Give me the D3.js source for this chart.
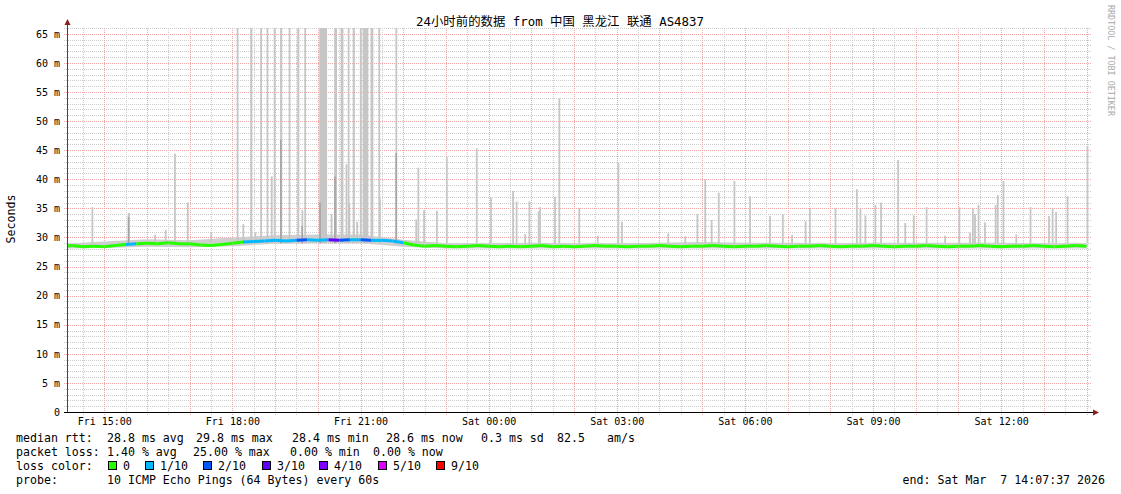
<!DOCTYPE html>
<html>
<head>
<meta charset="utf-8">
<script src="https://cdn.jsdelivr.net/npm/d3@7"></script>
<style>
  body { margin: 0; background: #fff; }
  text { font-family: "DejaVu Sans Mono", "Noto Sans CJK SC", monospace; white-space: pre; }
</style>
</head>
<body>
<script>
// median rtt (ms), one value every 15 minutes from Fri 14:00 to Sat 14:00
let median = [
    28.5, 28.6, 28.4, 28.5, 28.4, 28.6, 28.8, 28.9,
    29.0, 28.9, 29.1, 28.9, 28.9, 28.7, 28.6, 28.8,
    29.0, 29.2, 29.3, 29.4, 29.5, 29.4, 29.5, 29.6,
    29.5, 29.6, 29.5, 29.6, 29.6, 29.5, 29.5, 29.4,
    29.1, 28.7, 28.5, 28.6, 28.5, 28.4, 28.5, 28.6,
    28.5, 28.4, 28.5, 28.4, 28.5, 28.6, 28.4, 28.5,
    28.4, 28.5, 28.6, 28.5, 28.5, 28.4, 28.5, 28.5,
    28.6, 28.5, 28.4, 28.5, 28.5, 28.6, 28.5, 28.4,
    28.5, 28.5, 28.6, 28.5, 28.4, 28.5, 28.5, 28.6,
    28.5, 28.4, 28.5, 28.5, 28.6, 28.5, 28.4, 28.5,
    28.5, 28.6, 28.5, 28.4, 28.5, 28.5, 28.6, 28.5,
    28.4, 28.5, 28.5, 28.6, 28.5, 28.4, 28.5, 28.6,
    28.5
]
// lost pings out of 10, same 15 minute slots
let loss = [
    0, 0, 0, 0, 0, 0, 1, 0,
    0, 0, 0, 0, 0, 0, 0, 0,
    0, 1, 1, 1, 1, 1, 2, 1,
    1, 3, 2, 1, 2, 1, 1, 1,
    0, 0, 0, 0, 0, 0, 0, 0,
    0, 0, 0, 0, 0, 0, 0, 0,
    0, 0, 0, 0, 0, 0, 0, 0,
    0, 0, 0, 0, 0, 0, 0, 0,
    0, 0, 0, 0, 0, 0, 0, 0,
    0, 0, 0, 0, 0, 0, 0, 0,
    0, 0, 0, 0, 0, 0, 0, 0,
    0, 0, 0, 0, 0, 0, 0, 0,
    0
]
// smoke band (ms), hourly from Fri 14:00 to Sat 14:00
let smokeLo = [28.1, 28.2, 28.4, 28.3, 28.5, 28.9, 29.0, 29.0, 28.4, 28.1, 28.1, 28.1, 28.1,
    28.1, 28.1, 28.1, 28.1, 28.1, 28.1, 28.1, 28.1, 28.1, 28.1, 28.1, 28.1]
let smokeHi = [28.9, 29.3, 29.7, 29.5, 30.0, 30.4, 30.5, 30.5, 29.6, 29.0, 29.0, 29.1, 29.0,
    29.0, 29.1, 29.2, 29.1, 29.1, 29.0, 29.1, 29.1, 29.1, 29.1, 29.0, 29.0]
// slow pings: [time, max ms, minutes, darker part ms]
let spikes = [
    ["Fri 14:42", 35.2, 1], ["Fri 15:33", 34.2, 3, 33.5], ["Fri 16:10", 30.5, 1],
    ["Fri 16:25", 31.3, 1], ["Fri 16:38", 44.4, 2], ["Fri 16:56", 36.0, 2],
    ["Fri 17:29", 30.8, 2], ["Fri 18:06", 66, 1], ["Fri 18:14", 32.3, 1],
    ["Fri 18:25", 66, 3], ["Fri 18:31", 30.9, 1], ["Fri 18:39", 66, 1],
    ["Fri 18:48", 66, 1], ["Fri 18:54", 40.5, 2], ["Fri 18:58", 66, 1],
    ["Fri 19:07", 66, 3, 46.8], ["Fri 19:19", 66, 2], ["Fri 19:31", 66, 3],
    ["Fri 19:37", 34.7, 1, 32], ["Fri 19:41", 66, 1], ["Fri 20:02", 66, 11, 36],
    ["Fri 20:18", 34, 1], ["Fri 20:23", 66, 4, 40.5], ["Fri 20:32", 66, 4],
    ["Fri 20:39", 42.6, 1], ["Fri 20:42", 66, 1], ["Fri 20:43", 35.9, 2],
    ["Fri 20:49", 66, 3], ["Fri 20:54", 32.7, 1], ["Fri 20:59", 66, 1],
    ["Fri 21:03", 66, 8], ["Fri 21:14", 66, 4], ["Fri 21:25", 66, 1],
    ["Fri 21:26", 36.6, 2], ["Fri 21:49", 66, 2, 44.5], ["Fri 22:17", 33.1, 2],
    ["Fri 22:20", 42.0, 1], ["Fri 22:28", 34.7, 1], ["Fri 22:46", 34.6, 1],
    ["Fri 23:00", 43.9, 1], ["Fri 23:42", 45.3, 1],
    ["Sat 00:02", 36.9, 2], ["Sat 00:33", 38.0, 1], ["Sat 00:38", 36.2, 1],
    ["Sat 00:50", 30.6, 1], ["Sat 00:56", 36.2, 1], ["Sat 01:09", 34.5, 1],
    ["Sat 01:11", 35.2, 1], ["Sat 01:32", 37.0, 1], ["Sat 01:38", 53.9, 1],
    ["Sat 02:06", 35.1, 1], ["Sat 02:32", 30.3, 1], ["Sat 03:01", 42.8, 2],
    ["Sat 03:06", 32.7, 1], ["Sat 04:11", 30.7, 1], ["Sat 04:35", 30.2, 1],
    ["Sat 04:52", 34.0, 1], ["Sat 05:03", 40.0, 1], ["Sat 05:12", 33.0, 1],
    ["Sat 05:22", 37.7, 1], ["Sat 05:44", 39.7, 2], ["Sat 06:06", 37.1, 1],
    ["Sat 06:34", 33.7, 1], ["Sat 06:52", 34.0, 1], ["Sat 07:05", 30.4, 1],
    ["Sat 07:24", 32.8, 1], ["Sat 07:30", 35.0, 1], ["Sat 08:06", 35.0, 1],
    ["Sat 08:36", 38.3, 1], ["Sat 08:41", 34.9, 1], ["Sat 08:48", 33.8, 2],
    ["Sat 09:02", 35.6, 1], ["Sat 09:10", 36.0, 1], ["Sat 09:34", 43.3, 1],
    ["Sat 09:44", 32.5, 1], ["Sat 09:56", 33.8, 2], ["Sat 10:14", 35.2, 1],
    ["Sat 10:40", 30.3, 1], ["Sat 11:00", 35.2, 1], ["Sat 11:15", 30.8, 1],
    ["Sat 11:19", 35.0, 1], ["Sat 11:22", 34.0, 1], ["Sat 11:27", 35.6, 1],
    ["Sat 11:36", 32.6, 1], ["Sat 11:51", 35.6, 1], ["Sat 11:54", 37.3, 1],
    ["Sat 12:02", 39.7, 1], ["Sat 12:20", 30.5, 1], ["Sat 12:40", 35.2, 1],
    ["Sat 13:06", 33.7, 1], ["Sat 13:11", 35.0, 1], ["Sat 13:16", 34.4, 1],
    ["Sat 13:32", 37.1, 1], ["Sat 14:00", 45.7, 2]
]
let yTicks = [0, 5, 10, 15, 20, 25, 30, 35, 40, 45, 50, 55, 60, 65]
let lossLabels = ["0", "1/10", "2/10", "3/10", "4/10", "5/10", "9/10"]
let lossColors = ["#26ff00", "#00b8ff", "#0059ff", "#5e00ff", "#7e00ff", "#dd00ff", "#ff0000"]
let rttStats = ["28.8 ms avg", "29.8 ms max", "28.4 ms min", "28.6 ms now", "0.3 ms sd", "82.5", "am/s"]
let lossStats = ["1.40 % avg", "25.00 % max", "0.00 % min", "0.00 % now"]
let title = "24小时前的数据 from 中国 黑龙江 联通 AS4837"
let probe = "10 ICMP Echo Pings (64 Bytes) every 60s"
let endText = "end: Sat Mar  7 14:07:37 2026"

let start = new Date(2026, 2, 6, 14, 7, 37)
let end = new Date(2026, 2, 7, 14, 7, 37)
let firstSlot = new Date(2026, 2, 6, 14, 0, 0)

function parseTime(s) {
    let day = s.slice(0, 3) == "Fri" ? 6 : 7
    let hm = s.slice(4).split(":")
    return new Date(2026, 2, day, +hm[0], +hm[1])
}

let svg = d3.select("body").append("svg").attr("width", 1121).attr("height", 494)

let x = d3.scaleTime().domain([start, end]).range([67, 1092])
let y = d3.scaleLinear().domain([0, 66]).range([412, 28])

// grid, snapped to whole pixels
let grid = svg.append("g").attr("shape-rendering", "crispEdges")
d3.range(1, 67).forEach(v => {
    let py = Math.round(y(v)) + 0.5
    grid.append("line")
        .attr("x1", 64).attr("x2", 1092)
        .attr("y1", py).attr("y2", py)
        .attr("stroke", v % 5 == 0 ? "#f3a6a6" : "#cdcdcd")
        .attr("stroke-dasharray", "1,1")
})
d3.timeMinute.every(30).range(start, end).forEach(t => {
    let px = Math.round(x(t)) + 0.5
    grid.append("line")
        .attr("x1", px).attr("x2", px)
        .attr("y1", 28).attr("y2", 415)
        .attr("stroke", t.getMinutes() == 0 ? "#f3a6a6" : "#cdcdcd")
        .attr("stroke-dasharray", "1,1")
})

svg.append("clipPath").attr("id", "plot")
    .append("rect").attr("x", 67).attr("y", 28).attr("width", 1025).attr("height", 384)
let plot = svg.append("g").attr("clip-path", "url(#plot)")

// smoke
let hours = smokeLo.map((d, i) => d3.timeHour.offset(firstSlot, i))
plot.append("path")
    .datum(hours.map((t, i) => [t, smokeLo[i], smokeHi[i]]))
    .attr("fill", "#cfcfcf")
    .attr("d", d3.area().x(d => x(d[0])).y0(d => y(d[1])).y1(d => y(d[2])))

plot.selectAll(".spike")
    .data(spikes)
    .enter()
    .append("rect")
    .attr("x", d => x(parseTime(d[0])))
    .attr("width", d => Math.max(1.8, x(d3.timeMinute.offset(parseTime(d[0]), d[2])) - x(parseTime(d[0]))))
    .attr("y", d => y(d[1]))
    .attr("height", d => y(29) - y(d[1]))
    .attr("fill", "#c6c6c6")
plot.selectAll(".spike-dark")
    .data(spikes.filter(d => d[3]))
    .enter()
    .append("rect")
    .attr("x", d => x(parseTime(d[0])))
    .attr("width", d => Math.max(1.5, x(d3.timeMinute.offset(parseTime(d[0]), Math.min(d[2], 2))) - x(parseTime(d[0]))))
    .attr("y", d => y(d[3]))
    .attr("height", d => y(29) - y(d[3]))
    .attr("fill", "#a2a2a2")

// median line coloured by loss
function lossColor(n) {
    if (n <= 4) return lossColors[n]
    if (n <= 8) return lossColors[5]
    return lossColors[6]
}
let line = d3.line().x(d => x(d[0])).y(d => y(d[1]))
for (var i = 0; i < median.length - 1; i++) {
    let t0 = d3.timeMinute.offset(firstSlot, i * 15)
    let t1 = d3.timeMinute.offset(firstSlot, (i + 1) * 15)
    plot.append("path")
        .attr("d", line([[t0, median[i]], [t1, median[i + 1]]]))
        .attr("stroke", lossColor(loss[i]))
        .attr("stroke-width", 3)
        .attr("fill", "none")
}

// axes
let yAxis = svg.append("g")
    .attr("transform", "translate(67,0)")
    .call(d3.axisLeft(y).tickValues(yTicks).tickSize(0).tickPadding(7)
        .tickFormat(d => d == 0 ? "0" : d + " m"))
yAxis.select(".domain").remove()
yAxis.selectAll("text").attr("font-size", 10).attr("fill", "#000")
    .style("font-family", "DejaVu Sans Mono")

let xAxis = svg.append("g")
    .attr("transform", "translate(0,412)")
    .call(d3.axisBottom(x).ticks(d3.timeHour.every(3)).tickSize(0).tickPadding(6)
        .tickFormat(d3.timeFormat("%a %H:%M")))
xAxis.select(".domain").remove()
xAxis.selectAll("text").attr("font-size", 10).attr("fill", "#000")
    .style("font-family", "DejaVu Sans Mono")

svg.append("line").attr("x1", 67.5).attr("x2", 67.5).attr("y1", 24).attr("y2", 413)
    .attr("stroke", "#444")
svg.append("line").attr("x1", 64).attr("x2", 1094).attr("y1", 412.5).attr("y2", 412.5)
    .attr("stroke", "#000")
svg.append("path").attr("d", "M64.5,25 L67.5,19 L70.5,25 Z").attr("fill", "#8b1d1d")
svg.append("path").attr("d", "M1093,409.5 L1099,412.5 L1093,415.5 Z").attr("fill", "#8b1d1d")

// titles
svg.append("text").attr("x", 560).attr("y", 26).attr("text-anchor", "middle")
    .attr("font-size", 12.4).text(title)
svg.append("text").attr("transform", "translate(15,219) rotate(-90)")
    .attr("text-anchor", "middle").attr("font-size", 11.6).text("Seconds")
svg.append("text").attr("transform", "translate(1108,5) rotate(90)")
    .attr("font-size", 8.4).attr("fill", "#aaa").text("RRDTOOL / TOBI OETIKER")

// legend
let legend = svg.append("g").attr("font-size", 11.6)
legend.append("text").attr("x", 16).attr("y", 442).text("median rtt:")
let rttX = [107, 196, 292, 386, 481, 557, 607]
rttStats.forEach((s, i) => legend.append("text").attr("x", rttX[i]).attr("y", 442).text(s))
legend.append("text").attr("x", 16).attr("y", 456).text("packet loss:")
let lossX = [107, 193, 290, 373]
lossStats.forEach((s, i) => legend.append("text").attr("x", lossX[i]).attr("y", 456).text(s))
legend.append("text").attr("x", 16).attr("y", 470).text("loss color:")
let boxX = [108, 145, 203, 262, 319, 378, 436]
lossLabels.forEach((s, i) => {
    legend.append("rect").attr("x", boxX[i] + 0.5).attr("y", 461.5).attr("width", 8).attr("height", 8)
        .attr("fill", lossColors[i]).attr("stroke", "#000")
    legend.append("text").attr("x", boxX[i] + 15).attr("y", 470).text(s)
})
legend.append("text").attr("x", 16).attr("y", 484).text("probe:")
legend.append("text").attr("x", 107).attr("y", 484).text(probe)
legend.append("text").attr("x", 1105).attr("y", 484).attr("text-anchor", "end").text(endText)
</script>
</body>
</html>
